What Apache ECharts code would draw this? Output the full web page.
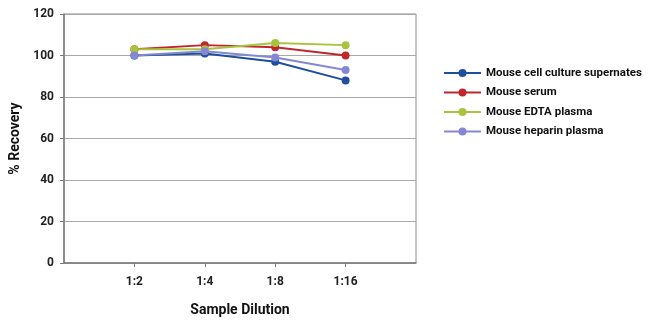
<!DOCTYPE html>
<html>
<head>
<meta charset="utf-8">
<script src="https://cdn.jsdelivr.net/npm/echarts@6/dist/echarts.min.js"></script>
<style>
  html, body { margin: 0; padding: 0; background: #fff; }
  #chart { width: 650px; height: 326px; }
</style>
</head>
<body>
<div id="chart"></div>
<script>
// Dilution steps; the blank ends pad the axis so points sit inside the frame
const dilutions = ['', '1:2', '1:4', '1:8', '1:16', ''];
const cellCulture = [null, 100, 101, 97, 88, null];
const serum = [null, 103, 105, 104, 100, null];
const edtaPlasma = [null, 103, 103, 106, 105, null];
const heparinPlasma = [null, 100, 102, 99, 93, null];
const yTicks = { min: 0, max: 120, interval: 20 };

const FONT = 'Roboto, "Liberation Sans", sans-serif';

function lineSeries(name, data, color) {
  return {
    name: name,
    type: 'line',
    data: data,
    symbol: 'circle',
    symbolSize: 8,
    showSymbol: true,
    lineStyle: { color: color, width: 2 },
    itemStyle: { color: color },
    connectNulls: false,
    animation: false
  };
}

const chart = echarts.init(document.getElementById('chart'), null, { renderer: 'canvas' });
chart.setOption({
  backgroundColor: '#ffffff',
  animation: false,
  grid: { left: 60, top: 14, width: 356, height: 249, show: true, borderColor: '#8c8c8c', borderWidth: 1 },
  legend: {
    orient: 'vertical',
    left: 441,
    top: 64,
    padding: 2,
    itemWidth: 37,
    itemHeight: 10,
    itemGap: 5.5,
    textStyle: { fontFamily: FONT, fontWeight: 'bold', fontSize: 11.5, color: '#111', lineHeight: 14 },
    data: ['Mouse cell culture supernates', 'Mouse serum', 'Mouse EDTA plasma', 'Mouse heparin plasma']
  },
  xAxis: {
    type: 'category',
    data: dilutions,
    boundaryGap: false,
    name: 'Sample Dilution',
    nameLocation: 'middle',
    nameGap: 40,
    nameTextStyle: { fontFamily: FONT, fontWeight: 'bold', fontSize: 14, color: '#111' },
    axisLine: { lineStyle: { color: '#7a7a7a', width: 1.5 } },
    axisTick: {
      show: true,
      length: 4,
      inside: false,
      interval: function (idx, val) { return val !== ''; },
      lineStyle: { color: '#7a7a7a' }
    },
    axisLabel: {
      interval: 0,
      margin: 13,
      fontFamily: FONT, fontWeight: 'bold', fontSize: 12, color: '#222'
    },
    splitLine: { show: false }
  },
  yAxis: {
    type: 'value',
    min: yTicks.min,
    max: yTicks.max,
    interval: yTicks.interval,
    name: '% Recovery',
    nameLocation: 'middle',
    nameGap: 42,
    nameTextStyle: { fontFamily: FONT, fontWeight: 'bold', fontSize: 14, color: '#111' },
    axisLine: { show: true, lineStyle: { color: '#7a7a7a', width: 1.5 } },
    axisTick: { show: true, length: 4, lineStyle: { color: '#7a7a7a' } },
    axisLabel: { margin: 10, fontFamily: FONT, fontWeight: 'bold', fontSize: 12, color: '#222' },
    splitLine: { show: true, lineStyle: { color: '#a8a8a8', width: 1 } }
  },
  series: [
    lineSeries('Mouse cell culture supernates', cellCulture, '#1f4f9c'),
    lineSeries('Mouse serum', serum, '#c0272d'),
    lineSeries('Mouse EDTA plasma', edtaPlasma, '#a8c43c'),
    lineSeries('Mouse heparin plasma', heparinPlasma, '#8488d2')
  ]
});
</script>
</body>
</html>
